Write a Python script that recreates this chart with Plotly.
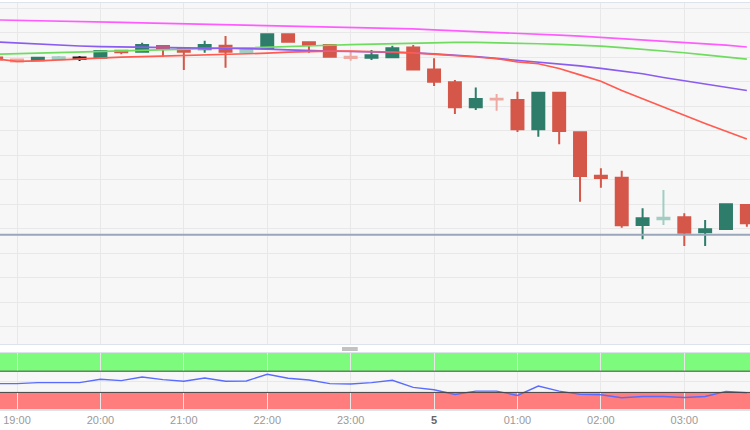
"""
Graphique chandeliers 15 min avec moyennes mobiles et oscillateur.
"""

import plotly.graph_objects as go

# --- Données -----------------------------------------------------------------
JOUR_1 = "2024-03-04"
JOUR_2 = "2024-03-05"

HEURES = [
    "18:45", "19:00", "19:15", "19:30", "19:45", "20:00", "20:15", "20:30",
    "20:45", "21:00", "21:15", "21:30", "21:45", "22:00", "22:15", "22:30",
    "22:45", "23:00", "23:15", "23:30", "23:45", "00:00", "00:15", "00:30",
    "00:45", "01:00", "01:15", "01:30", "01:45", "02:00", "02:15", "02:30",
    "02:45", "03:00", "03:15", "03:30", "03:45",
]

OUVERTURE = [
    18175.0, 18173.0, 18172.1, 18173.2, 18175.0, 18174.8, 18181.9, 18180.9,
    18186.7, 18183.7, 18183.4, 18187.0, 18180.6, 18184.4, 18198.7, 18190.5,
    18187.8, 18175.8, 18174.8, 18175.2, 18185.2, 18162.8, 18149.7, 18124.2,
    18133.0, 18131.6, 18101.7, 18139.1, 18098.7, 18054.4, 18052.3, 18004.1,
    18009.9, 18011.9, 17996.6, 18000.0, 18024.5,
]
HAUT = [
    18175.5, 18173.0, 18174.8, 18176.5, 18176.5, 18181.6, 18181.9, 18190.1,
    18186.7, 18183.7, 18192.1, 18196.9, 18185.0, 18198.7, 18198.7, 18190.5,
    18187.8, 18181.6, 18182.7, 18187.0, 18187.8, 18174.2, 18152.0, 18144.4,
    18137.8, 18140.1, 18139.1, 18140.1, 18098.7, 18061.9, 18059.5, 18021.1,
    18039.8, 18016.0, 18009.2, 18025.2, 18024.5,
]
BAS = [
    18172.5, 18170.9, 18172.1, 18173.2, 18171.4, 18174.8, 18178.3, 18180.9,
    18175.8, 18162.2, 18179.9, 18164.6, 18179.3, 18184.4, 18191.1, 18179.9,
    18175.8, 18171.7, 18172.5, 18175.2, 18162.8, 18145.9, 18117.3, 18121.4,
    18120.7, 18099.0, 18094.2, 18086.4, 18027.9, 18042.1, 18001.3, 17989.5,
    18004.1, 17982.7, 17982.7, 18000.0, 18002.4,
]
CLOTURE = [
    18173.0, 18170.9, 18174.8, 18175.2, 18173.5, 18181.6, 18180.3, 18187.8,
    18183.7, 18180.9, 18187.8, 18180.9, 18182.7, 18198.7, 18191.1, 18187.8,
    18175.8, 18174.5, 18177.2, 18184.4, 18162.8, 18150.3, 18124.2, 18132.7,
    18132.1, 18101.7, 18139.1, 18100.0, 18054.1, 18052.0, 18003.8, 18010.9,
    18011.5, 17996.2, 17999.7, 18025.2, 18005.8,
]

MM_ROSE = [
    18213.3, 18213.0, 18212.6, 18212.3, 18211.7, 18211.2, 18210.8, 18210.4,
    18209.9, 18209.5, 18209.1, 18208.7, 18208.2, 18207.9, 18207.5, 18207.0,
    18206.6, 18206.1, 18205.5, 18204.8, 18204.1, 18203.1, 18202.3, 18201.3,
    18200.5, 18199.6, 18198.7, 18197.8, 18196.7, 18195.5, 18194.3, 18193.1,
    18191.9, 18190.5, 18189.2, 18187.6, 18185.7,
]
MM_VERTE = [
    18178.4, 18179.0, 18179.6, 18180.2, 18180.8, 18181.4, 18182.0, 18182.7,
    18183.2, 18183.7, 18184.1, 18184.5, 18184.9, 18185.4, 18186.1, 18186.9,
    18187.5, 18188.2, 18188.8, 18189.4, 18189.9, 18190.3, 18190.5, 18190.5,
    18190.2, 18189.6, 18189.0, 18188.3, 18187.6, 18186.6, 18185.1, 18183.5,
    18181.8, 18179.8, 18177.7, 18175.5, 18173.3,
]
MM_VIOLETTE = [
    18190.8, 18189.6, 18188.5, 18187.6, 18186.7, 18186.0, 18185.6, 18185.2,
    18185.0, 18184.8, 18184.6, 18184.4, 18184.2, 18183.5, 18182.7, 18181.9,
    18181.4, 18181.1, 18180.8, 18180.4, 18179.6, 18178.6, 18177.6, 18176.0,
    18174.0, 18172.0, 18170.7, 18168.6, 18166.4, 18163.8, 18161.2, 18158.4,
    18154.6, 18151.5, 18148.0, 18144.6, 18141.3,
]
MM_ROUGE = [
    18173.5, 18171.1, 18171.6, 18172.7, 18173.7, 18174.7, 18175.3, 18175.9,
    18176.5, 18177.1, 18177.6, 18178.0, 18178.4, 18179.4, 18180.4, 18181.0,
    18181.4, 18181.4, 18181.1, 18180.6, 18179.6, 18178.4, 18177.1, 18175.5,
    18173.7, 18170.6, 18168.6, 18163.8, 18157.2, 18150.8, 18141.3, 18132.7,
    18124.5, 18115.8, 18107.7, 18099.7, 18091.9,
]

OSCILLATEUR = [
    46.6, 46.6, 48.5, 48.5, 48.5, 54.8, 52.3, 59.1, 54.2, 51.0, 57.2, 51.0,
    51.5, 64.3, 56.7, 53.4, 46.6, 45.8, 48.5, 52.9, 39.5, 35.1, 26.2, 32.5,
    32.5, 24.3, 42.0, 32.5, 26.2, 25.6, 20.0, 22.4, 22.4, 20.5, 22.4, 31.9,
    29.4,
]

NIVEAU_SUPPORT = 17994.2
SEUIL_HAUT, SEUIL_BAS = 70, 30

HEURES_AXE = ["19:00", "20:00", "21:00", "22:00", "23:00", "00:00",
              "01:00", "02:00", "03:00"]
ETIQUETTES_X = ["19:00", "20:00", "21:00", "22:00", "23:00",
                '<span style="color:#666"><b>5</b></span>',
                "01:00", "02:00", "03:00"]

# --- Style -------------------------------------------------------------------
VERT, ROUGE = "#2e7d6b", "#d5574a"
VERT_PALE, ROUGE_PALE = "#a3cdc3", "#eeaaa2"
BOUGIES_PALES = {"19:00", "19:30", "21:45", "23:00", "00:45", "02:45"}
BOUGIES_SOMBRES = {"19:45"}
FOND = "#f7f7f7"
GRILLE = "#e8e8e8"
BORDURE = "#dde3ea"


def horodatage(h):
    return f"{JOUR_1 if h >= '12:00' else JOUR_2} {h}"


X = [horodatage(h) for h in HEURES]


def bougies(indices, c_hausse, c_baisse, c_meche_h=None, c_meche_b=None):
    return go.Candlestick(
        x=[X[i] for i in indices],
        open=[OUVERTURE[i] for i in indices],
        high=[HAUT[i] for i in indices],
        low=[BAS[i] for i in indices],
        close=[CLOTURE[i] for i in indices],
        increasing=dict(fillcolor=c_hausse, line=dict(color=c_meche_h or c_hausse, width=2)),
        decreasing=dict(fillcolor=c_baisse, line=dict(color=c_meche_b or c_baisse, width=2)),
        showlegend=False, hoverinfo="skip",
    )


idx_pales = [i for i, h in enumerate(HEURES) if h in BOUGIES_PALES]
idx_sombres = [i for i, h in enumerate(HEURES) if h in BOUGIES_SOMBRES]
idx_normales = [i for i in range(len(HEURES)) if i not in idx_pales + idx_sombres]

fig = go.Figure()

# Moyennes mobiles (derrière les bougies)
for serie, couleur in [(MM_ROSE, "#ff5cff"), (MM_VERTE, "#6fdc5f"),
                       (MM_VIOLETTE, "#8a5cf0"), (MM_ROUGE, "#ff5b50")]:
    fig.add_trace(go.Scatter(x=X, y=serie, mode="lines", line=dict(color=couleur, width=1.7),
                             showlegend=False, hoverinfo="skip"))

fig.add_trace(bougies(idx_normales, VERT, ROUGE))
fig.add_trace(bougies(idx_pales, VERT_PALE, ROUGE_PALE))
fig.add_trace(bougies(idx_sombres, "#555555", "#5b4848", "#222222", "#222222"))

# Oscillateur (panneau bas)
fig.add_trace(go.Scatter(x=X, y=OSCILLATEUR, mode="lines", yaxis="y2",
                         line=dict(color="#5a6cff", width=1.4),
                         showlegend=False, hoverinfo="skip"))

fig.add_hline(y=NIVEAU_SUPPORT, line=dict(color="#9aa6ba", width=2), yref="y")

# Zones sur/sous-achat
fig.add_shape(type="rect", xref="paper", yref="y2", x0=0, x1=1, y0=SEUIL_HAUT, y1=104.3,
              fillcolor="#7dfb7d", line=dict(width=0), layer="between")
fig.add_shape(type="rect", xref="paper", yref="y2", x0=0, x1=1, y0=-2.4, y1=SEUIL_BAS,
              fillcolor="#ff7d7d", line=dict(width=0), layer="between")
for seuil in (SEUIL_HAUT, SEUIL_BAS):
    fig.add_shape(type="line", xref="paper", yref="y2", x0=0, x1=1, y0=seuil, y1=seuil,
                  line=dict(color="#444444", width=1))

# Poignée de séparation
for yp in (0.1512, 0.1463):
    fig.add_shape(type="line", xref="paper", yref="paper", x0=0.456, x1=0.477, y0=yp, y1=yp,
                  line=dict(color="#9a9a9a", width=1.2))

fig.update_layout(
    width=750, height=430,
    margin=dict(l=0, r=0, t=0, b=20),
    paper_bgcolor="white", plot_bgcolor=FOND,
    boxgap=0.18,
    font=dict(family="Liberation Sans, Arial, sans-serif", size=11, color="#9a9a9a"),
    xaxis=dict(
        type="date", anchor="y2",
        range=["2024-03-04 18:47:46", "2024-03-05 03:47:16"],
        tickvals=[horodatage(h) for h in HEURES_AXE], ticktext=ETIQUETTES_X,
        showgrid=True, gridcolor=GRILLE, gridwidth=1,
        showline=True, mirror="all", linecolor=BORDURE, linewidth=1,
        ticks="", zeroline=False,
        rangeslider=dict(visible=False),
    ),
    yaxis=dict(
        domain=[0.161, 0.9927], range=[17882.65, 18230.6],
        tick0=18000, dtick=25, showticklabels=False,
        showgrid=True, gridcolor=GRILLE, zeroline=False,
    ),
    yaxis2=dict(
        domain=[0.001, 0.139], range=[-2.4, 104.3],
        tickvals=[50], showticklabels=False,
        showgrid=True, gridcolor=GRILLE, zeroline=False,
    ),
)

fig.write_html("out.html", config={"displayModeBar": False},
               post_script="document.body.style.margin='0';")
